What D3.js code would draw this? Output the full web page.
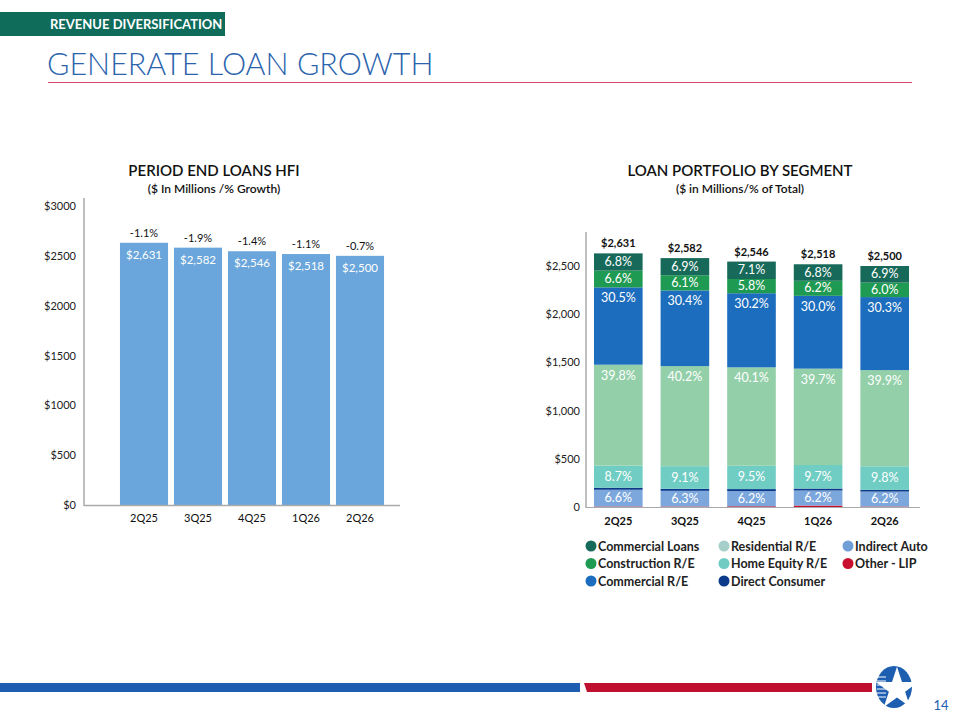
<!DOCTYPE html>
<html>
<head>
<meta charset="utf-8">
<script src="https://cdn.jsdelivr.net/npm/d3@7"></script>
<style>
  body { margin: 0; background: #fff; }
  svg { font-family: Lato, "Noto Sans", sans-serif; display: block; }
</style>
</head>
<body>
<div id="chart-area"></div>
<script>
// data
const quarters = ["2Q25", "3Q25", "4Q25", "1Q26", "2Q26"];
const periodEndLoans = [2631, 2582, 2546, 2518, 2500];
const growthLabels = ["-1.1%", "-1.9%", "-1.4%", "-1.1%", "-0.7%"];
const leftTicks = [0, 500, 1000, 1500, 2000, 2500, 3000];

// % of total per segment, bottom to top
const otherLip = [0.2, 0.2, 0.3, 0.6, 0.2];
const indirectAuto = [6.6, 6.3, 6.2, 6.2, 6.2];
const directConsumer = [0.8, 0.8, 0.8, 0.8, 0.7];
const homeEquity = [8.7, 9.1, 9.5, 9.7, 9.8];
const residential = [39.8, 40.2, 40.1, 39.7, 39.9];
const commercialRE = [30.5, 30.4, 30.2, 30.0, 30.3];
const construction = [6.6, 6.1, 5.8, 6.2, 6.0];
const commercialLoans = [6.8, 6.9, 7.1, 6.8, 6.9];
const rightTicks = [0, 500, 1000, 1500, 2000, 2500];

const segments = [
  { key: "Other - LIP", pct: otherLip, color: "#c8102e", label: false },
  { key: "Indirect Auto", pct: indirectAuto, color: "#7ba7dc", label: "mid" },
  { key: "Direct Consumer", pct: directConsumer, color: "#0b3a8a", label: false },
  { key: "Home Equity R/E", pct: homeEquity, color: "#6fcdc3", label: "mid" },
  { key: "Residential R/E", pct: residential, color: "#93d0a9", label: "top" },
  { key: "Commercial R/E", pct: commercialRE, color: "#1c6dbd", label: "top" },
  { key: "Construction R/E", pct: construction, color: "#1f9a52", label: "mid" },
  { key: "Commercial Loans", pct: commercialLoans, color: "#176a5a", label: "mid" }
];

const legendItems = [
  ["Commercial Loans", "#176a5a"], ["Construction R/E", "#1f9a52"], ["Commercial R/E", "#1c6dbd"],
  ["Residential R/E", "#a6cfc9"], ["Home Equity R/E", "#6fcdc3"], ["Direct Consumer", "#0b3a8a"],
  ["Indirect Auto", "#6f9fd6"], ["Other - LIP", "#c8102e"]
];

const svg = d3.select("#chart-area")
  .append("svg")
  .attr("width", 960)
  .attr("height", 720);

// header
svg.append("rect")
  .attr("x", 0).attr("y", 12).attr("width", 225).attr("height", 24)
  .attr("fill", "#0f6b5a");
svg.append("text")
  .attr("x", 50).attr("y", 29)
  .attr("fill", "#fff").attr("font-size", "13px").attr("font-weight", 700)
  .text("REVENUE DIVERSIFICATION");
svg.append("text")
  .attr("x", 47).attr("y", 75)
  .attr("fill", "#2b64ad").attr("font-size", "30.5px").attr("font-weight", 300)
  .text("GENERATE LOAN GROWTH");
svg.append("line")
  .attr("x1", 48).attr("x2", 912).attr("y1", 82.5).attr("y2", 82.5)
  .attr("stroke", "#d6476a").attr("stroke-width", 1.2);

// footer
svg.append("rect").attr("x", 0).attr("y", 683).attr("width", 580).attr("height", 9).attr("fill", "#1d5eb0");
svg.append("path").attr("d", "M584,683 L872,683 L872,692 L587,692 Z").attr("fill", "#c0102f");
const logo = svg.append("g").attr("transform", "translate(894,687)");
logo.append("ellipse").attr("rx", 18).attr("ry", 21).attr("fill", "#1d5eb0");
logo.append("path")
  .attr("d", d3.symbol().type(d3.symbolStar).size(560)())
  .attr("transform", "translate(3,2)")
  .attr("fill", "#fff");
for (let i = 0; i < 6; i++) {
  logo.append("line")
    .attr("x1", -17).attr("x2", -8).attr("y1", -10 + i * 4).attr("y2", -10 + i * 4)
    .attr("stroke", "#fff").attr("stroke-width", 1);
}
svg.append("text")
  .attr("x", 941).attr("y", 710).attr("text-anchor", "middle")
  .attr("font-size", "13px").attr("fill", "#1d5eb0")
  .text("14");

// ---------- left chart: period end loans ----------
const left = svg.append("g");

left.append("text")
  .attr("x", 214).attr("y", 176).attr("text-anchor", "middle")
  .attr("font-size", "15px").attr("font-weight", 600).attr("fill", "#111")
  .text("PERIOD END LOANS HFI");
left.append("text")
  .attr("x", 214).attr("y", 193).attr("text-anchor", "middle")
  .attr("font-size", "12px").attr("font-weight", 600).attr("fill", "#111")
  .text("($ In Millions /% Growth)");

const xL = d3.scaleBand()
  .domain(quarters)
  .range([117, 387])
  .paddingInner(0.11)
  .paddingOuter(0.055);

const yL = d3.scaleLinear()
  .domain([0, 3000])
  .range([505, 206]);

const yAxisL = d3.axisLeft(yL)
  .tickValues(leftTicks)
  .tickSize(0)
  .tickPadding(8)
  .tickFormat((d) => `$${d}`);
left.append("g")
  .attr("transform", "translate(84,0)")
  .call(yAxisL)
  .call((g) => g.select(".domain").remove())
  .selectAll("text")
  .attr("font-size", "11px")
  .attr("fill", "#222")
  .attr("font-family", "Lato, sans-serif");

left.append("line")
  .attr("x1", 84).attr("x2", 84).attr("y1", 198).attr("y2", 506)
  .attr("stroke", "#aaa").attr("stroke-width", 1.5);

left.selectAll("rect.bar")
  .data(quarters)
  .enter()
  .append("rect")
  .attr("class", "bar")
  .attr("x", (d) => xL(d))
  .attr("y", (d, i) => yL(periodEndLoans[i]))
  .attr("width", xL.bandwidth())
  .attr("height", (d, i) => 505 - yL(periodEndLoans[i]))
  .attr("fill", "#6aa6db");

left.append("line")
  .attr("x1", 84).attr("x2", 400).attr("y1", 505.5).attr("y2", 505.5)
  .attr("stroke", "#aaa").attr("stroke-width", 1.5);

left.selectAll("text.val")
  .data(quarters)
  .enter()
  .append("text")
  .attr("class", "val")
  .attr("x", (d) => xL(d) + xL.bandwidth() / 2)
  .attr("y", (d, i) => yL(periodEndLoans[i]) + 16)
  .attr("text-anchor", "middle")
  .attr("font-size", "11.5px").attr("fill", "#fff")
  .text((d, i) => "$" + d3.format(",")(periodEndLoans[i]));

left.selectAll("text.growth")
  .data(quarters)
  .enter()
  .append("text")
  .attr("class", "growth")
  .attr("x", (d) => xL(d) + xL.bandwidth() / 2)
  .attr("y", (d, i) => yL(periodEndLoans[i]) - 6)
  .attr("text-anchor", "middle")
  .attr("font-size", "11px").attr("fill", "#111")
  .text((d, i) => growthLabels[i]);

const xAxisL = d3.axisBottom(xL).tickSize(0).tickPadding(9);
left.append("g")
  .attr("transform", "translate(0,505)")
  .call(xAxisL)
  .call((g) => g.select(".domain").remove())
  .selectAll("text")
  .attr("font-size", "11px")
  .attr("fill", "#111")
  .attr("font-family", "Lato, sans-serif");

// ---------- right chart: loan portfolio by segment ----------
const right = svg.append("g");

right.append("text")
  .attr("x", 740).attr("y", 176).attr("text-anchor", "middle")
  .attr("font-size", "15px").attr("font-weight", 600).attr("fill", "#111")
  .text("LOAN PORTFOLIO BY SEGMENT");
right.append("text")
  .attr("x", 740).attr("y", 193).attr("text-anchor", "middle")
  .attr("font-size", "12px").attr("font-weight", 600).attr("fill", "#111")
  .text("($ in Millions/% of Total)");

const xR = d3.scaleBand()
  .domain(quarters)
  .range([586, 917])
  .paddingInner(0.27)
  .paddingOuter(0.12);

const yR = d3.scaleLinear()
  .domain([0, 2500])
  .range([507, 266]);

const table = quarters.map((q, i) => {
  const row = { quarter: q, total: periodEndLoans[i] };
  segments.forEach((s) => { row[s.key] = periodEndLoans[i] * s.pct[i] / 100; });
  return row;
});

const stacked = d3.stack().keys(segments.map((s) => s.key))(table);

const yAxisR = d3.axisLeft(yR)
  .tickValues(rightTicks)
  .tickSize(0)
  .tickPadding(6)
  .tickFormat((d) => d === 0 ? "0" : "$" + d3.format(",")(d));
right.append("g")
  .attr("transform", "translate(586,0)")
  .call(yAxisR)
  .call((g) => g.select(".domain").remove())
  .selectAll("text")
  .attr("font-size", "11px")
  .attr("fill", "#222")
  .attr("font-family", "Lato, sans-serif");

right.append("line")
  .attr("x1", 586).attr("x2", 586).attr("y1", 232).attr("y2", 508)
  .attr("stroke", "#aaa").attr("stroke-width", 1.5);

const layers = right.selectAll("g.layer")
  .data(stacked)
  .enter()
  .append("g")
  .attr("class", "layer")
  .attr("fill", (d, i) => segments[i].color);

layers.selectAll("rect")
  .data((d) => d)
  .enter()
  .append("rect")
  .attr("x", (d) => xR(d.data.quarter))
  .attr("y", (d) => yR(d[1]))
  .attr("width", xR.bandwidth())
  .attr("height", (d) => yR(d[0]) - yR(d[1]));

right.append("line")
  .attr("x1", 586).attr("x2", 920).attr("y1", 507.5).attr("y2", 507.5)
  .attr("stroke", "#aaa").attr("stroke-width", 1);

// percent labels
stacked.forEach((layer, li) => {
  const seg = segments[li];
  if (!seg.label) return;
  right.selectAll("text.lbl" + li)
    .data(layer)
    .enter()
    .append("text")
    .attr("x", (d) => xR(d.data.quarter) + xR.bandwidth() / 2)
    .attr("y", (d) => seg.label === "top" ? yR(d[1]) + 15 : (yR(d[0]) + yR(d[1])) / 2 + 4)
    .attr("text-anchor", "middle")
    .attr("font-size", "12.5px").attr("fill", "#fff")
    .text((d, i) => seg.pct[i].toFixed(1) + "%");
});

right.selectAll("text.total")
  .data(table)
  .enter()
  .append("text")
  .attr("x", (d) => xR(d.quarter) + xR.bandwidth() / 2)
  .attr("y", (d) => yR(d.total) - 6)
  .attr("text-anchor", "middle")
  .attr("font-size", "11px").attr("font-weight", 700).attr("fill", "#111")
  .text((d) => "$" + d3.format(",")(d.total));

const xAxisR = d3.axisBottom(xR).tickSize(0).tickPadding(10);
right.append("g")
  .attr("transform", "translate(0,507)")
  .call(xAxisR)
  .call((g) => g.select(".domain").remove())
  .selectAll("text")
  .attr("font-size", "11px")
  .attr("font-weight", 700)
  .attr("fill", "#111")
  .attr("font-family", "Lato, sans-serif");

// legend
const legend = right.selectAll("g.legend")
  .data(legendItems)
  .enter()
  .append("g")
  .attr("class", "legend")
  .attr("transform", (d, i) => {
    const col = Math.floor(i / 3), row = i % 3;
    return `translate(${[591, 724, 848][col]},${546 + row * 17.5})`;
  });
legend.append("circle").attr("r", 5.5).attr("fill", (d) => d[1]);
legend.append("text")
  .attr("x", 7).attr("y", 4.5)
  .attr("font-size", "12.5px").attr("font-weight", 700).attr("fill", "#222")
  .text((d) => d[0]);
</script>
</body>
</html>
